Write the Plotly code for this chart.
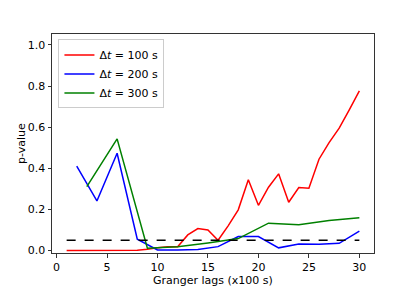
import plotly.graph_objects as go

lags_100 = list(range(1, 31))
p_100 = [0.0, 0.0, 0.0, 0.0, 0.0, 0.0, 0.0, 0.001, 0.006, 0.014, 0.018, 0.018,
         0.076, 0.107, 0.100, 0.050, 0.120, 0.198, 0.344, 0.220, 0.308, 0.373,
         0.235, 0.306, 0.303, 0.444, 0.525, 0.595, 0.684, 0.776]

lags_200 = list(range(2, 31, 2))
p_200 = [0.410, 0.241, 0.473, 0.055, 0.003, 0.002, 0.005, 0.019, 0.068, 0.068,
         0.013, 0.032, 0.031, 0.035, 0.094]

lags_300 = list(range(3, 31, 3))
p_300 = [0.311, 0.543, 0.011, 0.019, 0.037, 0.058, 0.133, 0.125, 0.146, 0.159]

threshold_x = [1, 30]
threshold_y = [0.05, 0.05]

names = ["Δ<i>t</i> = 100 s", "Δ<i>t</i> = 200 s", "Δ<i>t</i> = 300 s"]
colors = ["#ff0000", "#0000ff", "#008000"]

fig = go.Figure()
for x, y, n, c in zip([lags_100, lags_200, lags_300], [p_100, p_200, p_300], names, colors):
    fig.add_trace(go.Scatter(x=x, y=y, mode="lines", name=n,
                             line=dict(color=c, width=1.5)))
fig.add_trace(go.Scatter(x=threshold_x, y=threshold_y, mode="lines", showlegend=False,
                         line=dict(color="black", width=1.5, dash="dash")))

axis_common = dict(showgrid=False, zeroline=False, showline=True, linecolor="#333333",
                   linewidth=1, mirror=True, ticks="outside", ticklen=3.5,
                   tickcolor="#333333", tickfont=dict(size=11, color="black"),
                   automargin=False)

fig.update_layout(
    width=416, height=289,
    margin=dict(l=52, r=42, t=34, b=36),
    paper_bgcolor="white", plot_bgcolor="white",
    font=dict(family="DejaVu Sans", size=11, color="black"),
    xaxis=dict(range=[-0.45, 31.45], tickvals=[0, 5, 10, 15, 20, 25, 30], **axis_common),
    yaxis=dict(range=[-0.012, 1.053], tickvals=[0, 0.2, 0.4, 0.6, 0.8, 1.0],
               tickformat=".1f", **axis_common),
    legend=dict(x=0.02, y=0.975, xanchor="left", yanchor="top",
                bordercolor="#cccccc", borderwidth=1, bgcolor="rgba(255,255,255,0.8)",
                font=dict(size=11), tracegroupgap=0, itemwidth=30),
    annotations=[
        dict(text="Granger lags (x100 s)", xref="paper", yref="paper", x=0.5, y=-0.126,
             xanchor="center", yanchor="middle", showarrow=False, font=dict(size=11)),
        dict(text="p-value", xref="paper", yref="paper", x=-0.095, y=0.5, textangle=-90,
             xanchor="center", yanchor="middle", showarrow=False, font=dict(size=11)),
    ],
)

fig.write_html("out.html", config={"displayModeBar": False},
               post_script="document.body.style.margin='0px';")
